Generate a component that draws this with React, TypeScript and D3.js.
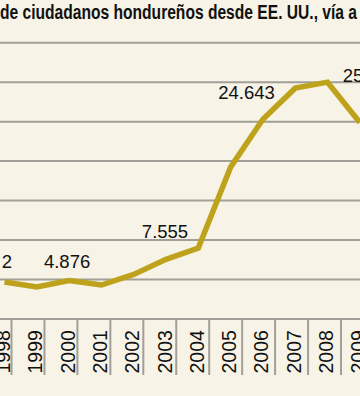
import React from 'react';
import * as d3 from 'd3';

const years = [1998, 1999, 2000, 2001, 2002, 2003, 2004, 2005, 2006, 2007, 2008, 2009];
const deportados = [4680, 4050, 4876, 4300, 5650, 7555, 8990, 19240, 25300, 29240, 30000, 24900];
const gridTicks = [0, 5000, 10000, 15000, 20000, 25000, 30000, 35000];
const labelYears = [1998, 2000, 2003, 2006, 2009];
const labelTexts = ['2', '4.876', '7.555', '24.643', '25'];
const title = 'de ciudadanos hondureños desde EE. UU., vía a';

// where each value label sits relative to its point
const labelPlace: { [k: number]: { anchor: string; dx: number; dy: number } } = {
  1998: { anchor: 'end', dx: 7.5, dy: -14 },
  2000: { anchor: 'middle', dx: -2, dy: -12.5 },
  2003: { anchor: 'middle', dx: -1, dy: -21 },
  2006: { anchor: 'end', dx: 12, dy: -20 },
  2009: { anchor: 'start', dx: -17, dy: -40 },
};

const W = 360;
const H = 396;
const bg = '#f7f3e6';
const gridColor = '#a19f98';
const lineColor = '#bfa21b';

export default function App() {
  const x = d3.scalePoint<number>().domain(years).range([4.5, 359.8]);
  const y = d3.scaleLinear().domain([0, 35000]).range([319, 42.7]);
  const sepX = d3.scaleLinear().domain([1998, 2008]).range([11.5, 341]);

  const line = d3
    .line<number>()
    .x((d, i) => x(years[i]) as number)
    .y(d => y(d));

  const axisTop = y(0);
  const axisBottom = 375;

  return (
    <svg width={W} height={H} style={{ position: 'absolute', left: 0, top: 0 }}>
      <rect x={0} y={0} width={W} height={H} fill={bg} />
      <text
        x={0}
        y={19}
        fontFamily="'Liberation Sans Narrow', 'Arial Narrow', 'Liberation Sans', Arial, sans-serif"
        fontWeight="bold"
        fontSize={20}
        fill="#111"
        textLength={357}
        lengthAdjust="spacingAndGlyphs"
      >
        {title}
      </text>

      {gridTicks.map(t => (
        <line key={t} x1={0} x2={W} y1={y(t)} y2={y(t)} stroke={gridColor} strokeWidth={2} />
      ))}

      {years.slice(0, -1).map(yr => (
        <line
          key={'s' + yr}
          x1={sepX(yr)}
          x2={sepX(yr)}
          y1={axisTop}
          y2={axisBottom}
          stroke={gridColor}
          strokeWidth={2}
        />
      ))}

      {years.map(yr => (
        <text
          key={'t' + yr}
          transform={`translate(${(x(yr) as number) + 5.5},373.5) rotate(-90)`}
          fontFamily="'Liberation Sans', Arial, sans-serif"
          fontSize={19.5}
          fill="#111"
        >
          {yr}
        </text>
      ))}

      <path
        d={line(deportados) || ''}
        fill="none"
        stroke={lineColor}
        strokeWidth={5.5}
        strokeLinejoin="miter"
      />

      {labelYears.map((yr, i) => {
        const p = labelPlace[yr];
        const v = deportados[years.indexOf(yr)];
        return (
          <text
            key={'l' + yr}
            x={(x(yr) as number) + p.dx}
            y={y(v) + p.dy}
            textAnchor={p.anchor}
            fontFamily="'Liberation Sans', Arial, sans-serif"
            fontSize={18.5}
            fill="#111"
          >
            {labelTexts[i]}
          </text>
        );
      })}
    </svg>
  );
}
